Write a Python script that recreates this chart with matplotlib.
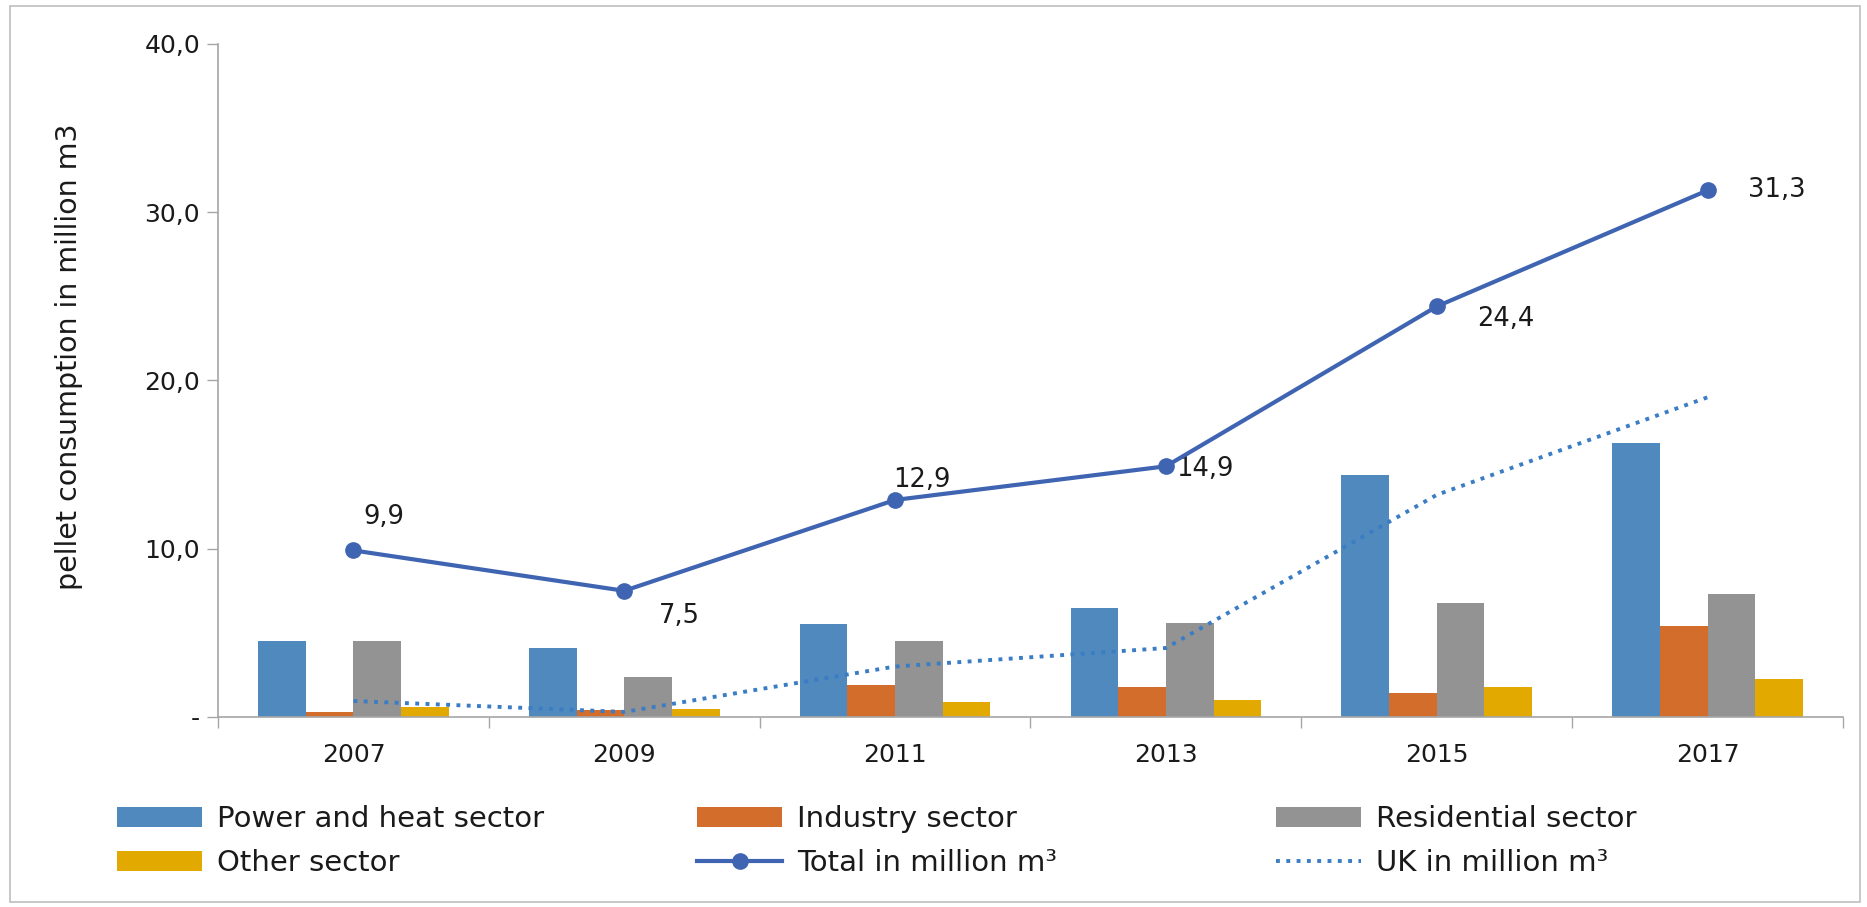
import matplotlib
matplotlib.use('Agg')
import matplotlib.pyplot as plt
from matplotlib.patches import Rectangle
from matplotlib.ticker import FixedLocator, FuncFormatter
import numpy as np


YEARS = ['2007', '2009', '2011', '2013', '2015', '2017']
POWER = [4.5, 4.1, 5.5, 6.5, 14.4, 16.3]
INDUSTRY = [0.3, 0.4, 1.9, 1.8, 1.4, 5.4]
RESIDENTIAL = [4.5, 2.4, 4.5, 5.6, 6.8, 7.3]
OTHER = [0.6, 0.5, 0.9, 1.0, 1.8, 2.25]
TOTAL = [9.9, 7.5, 12.9, 14.9, 24.4, 31.3]
UK = [0.95, 0.3, 3.0, 4.1, 13.2, 19.0]

BAR_COLORS = ['#4F89BD', '#D36D2B', '#939393', '#E2AA00']
TOTAL_COLOR = '#3F64B1'
UK_COLOR = '#3B7DC4'
AXIS_GRAY = '#A6A6A6'
TEXT = '#1A1A1A'

plt.rcParams['font.family'] = ['DejaVu Sans']

fig = plt.figure(figsize=(18.67, 9.07), dpi=100)
ax = fig.add_axes([0.1168, 0.2095, 0.8703, 0.742])

centers = np.arange(len(YEARS)) + 0.5
width = 0.176
series = [POWER, INDUSTRY, RESIDENTIAL, OTHER]
names = ['Power and heat sector', 'Industry sector', 'Residential sector',
         'Other sector']
bars = []
for j, (vals, color, name) in enumerate(zip(series, BAR_COLORS, names)):
    b = ax.bar(centers + (j - 1.5) * width, vals, width, color=color,
               label=name, zorder=2)
    bars.append(b)

total_line, = ax.plot(centers, TOTAL, color=TOTAL_COLOR, lw=3,
                      marker='o', markersize=11, zorder=4,
                      label='Total in million m³')
uk_line, = ax.plot(centers, UK, color=UK_COLOR, lw=2.8, ls=':', zorder=3,
                   label='UK in million m³')

# data labels next to the total markers
offsets = [(22, 24), (40, -18), (19, 14), (28, -2), (50, -9), (50, 0)]
for x, y, (dx, dy) in zip(centers, TOTAL, offsets):
    ax.annotate('{:.1f}'.format(y).replace('.', ','), (x, y),
                xytext=(dx, dy), textcoords='offset points',
                ha='center', va='center', fontsize=18.5, color=TEXT)

ax.set_xlim(0, len(YEARS))
ax.set_ylim(0, 40)
ax.set_yticks([0, 10, 20, 30, 40])
ax.yaxis.set_major_formatter(FuncFormatter(
    lambda v, p: '-' if v == 0 else '{:.1f}'.format(v).replace('.', ',')))
ax.tick_params(axis='y', length=8, width=1, color=AXIS_GRAY, pad=5,
               labelsize=18, labelcolor=TEXT)

ax.xaxis.set_major_locator(FixedLocator(np.arange(len(YEARS) + 1)))
ax.xaxis.set_minor_locator(FixedLocator(centers))
ax.set_xticklabels([], minor=False)
ax.set_xticklabels(YEARS, minor=True)
ax.tick_params(axis='x', which='major', length=8, width=1, color=AXIS_GRAY)
ax.tick_params(axis='x', which='minor', length=0, pad=19,
               labelsize=18, labelcolor=TEXT)

for side in ['top', 'right']:
    ax.spines[side].set_visible(False)
for side in ['left', 'bottom']:
    ax.spines[side].set_color(AXIS_GRAY)
    ax.spines[side].set_linewidth(1.2)

ax.set_ylabel('pellet consumption in million m3', fontsize=20.5, color=TEXT)
ax.yaxis.set_label_coords(-0.083, 0.535)

# legend: three separate blocks, two rows each
groups = [
    ([bars[0], bars[3]], [names[0], names[3]], 117),
    ([bars[1], total_line], [names[1], 'Total in million m³'], 697),
    ([bars[2], uk_line], [names[2], 'UK in million m³'], 1276),
]
for handles, labels, xpx in groups:
    fig.legend(handles, labels, loc='upper left',
               bbox_to_anchor=(xpx / 1867, 1 - 805 / 907),
               frameon=False, fontsize=21, borderpad=0, borderaxespad=0,
               handlelength=2.93, handleheight=0.68, handletextpad=0.5,
               labelspacing=0.55, labelcolor=TEXT)

fig.patches.append(Rectangle((10 / 1867, 5 / 907), 1850 / 1867, 896 / 907,
                             transform=fig.transFigure, fill=False,
                             edgecolor='#BFBFBF', lw=1.2))

fig.savefig('out.png', dpi=100)
